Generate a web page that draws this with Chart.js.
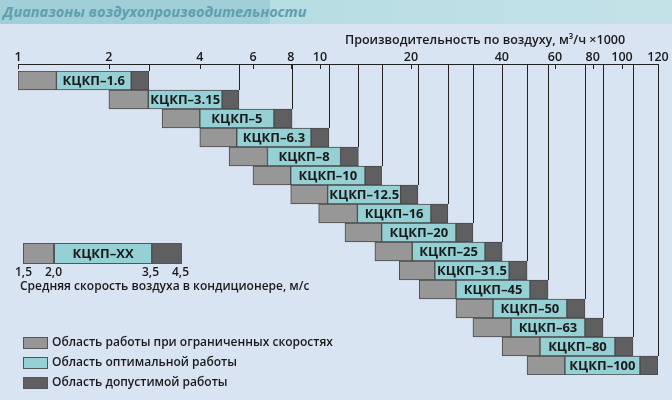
<!DOCTYPE html>
<html><head><meta charset="utf-8">
<script src="https://cdn.jsdelivr.net/npm/chart.js@4"></script>
<style>
body{margin:0;background:#d9e4f2;font-family:"Open Sans",sans-serif;}
#wrap{position:relative;width:672px;height:400px;overflow:hidden;background:#d9e4f2;}
#band{position:absolute;left:0;top:0;width:672px;height:24px;background:linear-gradient(90deg,#a6d3dc 0%,#b6dde3 40%,#c3e2e8 100%);}
#band2{position:absolute;left:0;top:0;width:270px;height:24px;background:#a0cfd9;}
#title{position:absolute;left:3px;top:2px;font-style:italic;font-weight:700;font-size:14.5px;color:#5e9fae;white-space:nowrap;}
canvas{position:absolute;left:0;top:0;}
.t{position:absolute;white-space:nowrap;color:#1a1a1a;font-weight:600;font-size:12px;}
.sw{position:absolute;width:25px;height:12px;border:1px solid #555;box-sizing:border-box;}
</style></head><body>
<div id="wrap">
<div id="band"></div><div id="band2"></div>
<div id="title">Диапазоны воздухопроизводительности</div>
<canvas id="c" width="672" height="400"></canvas>
<div class="t" style="left:345px;top:31px;font-size:12.5px;">Производительность по воздуху, м³/ч ×1000</div>
<div style="position:absolute;left:23px;top:243px;width:31px;height:21px;background:#979797;border:1px solid #555;box-sizing:border-box"></div>
<div style="position:absolute;left:54px;top:243px;width:98px;height:21px;background:#94d0d4;border:1px solid #555;box-sizing:border-box;text-align:center;font-weight:700;font-size:13px;line-height:19px;color:#1a1a1a">КЦКП–XX</div>
<div style="position:absolute;left:152px;top:243px;width:30px;height:21px;background:#5f5f61;border:1px solid #555;box-sizing:border-box"></div>
<div class="t" style="left:15px;top:263px;">1,5</div>
<div class="t" style="left:45px;top:263px;">2,0</div>
<div class="t" style="left:142px;top:263px;">3,5</div>
<div class="t" style="left:172px;top:263px;">4,5</div>
<div class="t" style="left:20px;top:277px;">Средняя скорость воздуха в кондиционере, м/с</div>
<div class="sw" style="left:23px;top:337px;background:#979797"></div>
<div class="t" style="left:52px;top:333px;">Область работы при ограниченных скоростях</div>
<div class="sw" style="left:23px;top:357px;background:#94d0d4"></div>
<div class="t" style="left:52px;top:353px;">Область оптимальной работы</div>
<div class="sw" style="left:23px;top:377px;background:#5f5f61"></div>
<div class="t" style="left:52px;top:373px;">Область допустимой работы</div>
</div>
<script>
const models=['КЦКП–1.6','КЦКП–3.15','КЦКП–5','КЦКП–6.3','КЦКП–8','КЦКП–10','КЦКП–12.5','КЦКП–16','КЦКП–20','КЦКП–25','КЦКП–31.5','КЦКП–45','КЦКП–50','КЦКП–63','КЦКП–80','КЦКП–100'];
// airflow (m3/h x1000) at 1.5, 2.0, 3.5, 4.5 m/s
const v15=[1.0,2.0,3.0,4.0,5.0,6.0,8.0,9.9,12.1,15.2,18.3,21.3,28.2,32.1,40.1,48.5];
const v20=[1.34,2.7,4.0,5.3,6.7,8.0,10.6,13.3,16.0,20.2,24.0,28.2,37.4,42.9,53.5,64.7];
const v35=[2.37,4.74,7.04,9.34,11.7,14.1,18.5,23.3,28.2,35.2,42.3,49.6,65.7,75.4,94.8,114.7];
const v45=[2.71,5.39,8.08,10.7,13.4,16.0,21.1,26.5,32.1,40.1,48.5,56.9,75.4,86.5,108.7,131.6];
const tickValues=[1,2,4,6,8,10,20,40,60,80,100,131.6];
const tickLabels=['1','2','4','6','8','10','20','40','60','80','100','120'];
const mk=(a,b)=>a.map((x,i)=>[x,b[i]]);
const ds=(label,data,color)=>({label,data,backgroundColor:color,borderColor:'#4a4a4a',borderWidth:1,borderSkipped:false,grouped:false,barPercentage:1,categoryPercentage:1});
const deco={id:'deco',
 beforeDatasetsDraw(ch){const x=ch.scales.x,ctx=ch.ctx,y=ch.scales.y,top=ch.chartArea.top-7;
  ctx.save();ctx.strokeStyle='#222';ctx.lineWidth=1;
  ctx.beginPath();ctx.moveTo(x.getPixelForValue(1),top+.5);ctx.lineTo(x.getPixelForValue(131.6),top+.5);ctx.stroke();
  v45.forEach((v,i)=>{const px=Math.round(x.getPixelForValue(v))+.5;const by=y.getPixelForValue(i)-9.5;
   ctx.beginPath();ctx.moveTo(px,top);ctx.lineTo(px,by);ctx.stroke();});
  tickValues.forEach(v=>{const px=Math.round(x.getPixelForValue(v))+.5;ctx.beginPath();ctx.moveTo(px,top);ctx.lineTo(px,top+5);ctx.stroke();});
  ctx.fillStyle='#1a1a1a';ctx.font='600 12.5px "Open Sans"';ctx.textAlign='center';ctx.textBaseline='alphabetic';
  tickValues.forEach((v,i)=>ctx.fillText(tickLabels[i],x.getPixelForValue(v),top-3));
  ctx.restore();},
 afterDatasetsDraw(ch){const x=ch.scales.x,y=ch.scales.y,ctx=ch.ctx;ctx.save();
  ctx.fillStyle='#1a1a1a';ctx.font='700 13px "Open Sans"';ctx.textAlign='center';ctx.textBaseline='middle';
  models.forEach((m,i)=>ctx.fillText(m,(x.getPixelForValue(v20[i])+x.getPixelForValue(v35[i]))/2,y.getPixelForValue(i)+1));
  ctx.restore();}};
new Chart(document.getElementById('c'),{type:'bar',
 data:{labels:models,datasets:[ds('Область работы при ограниченных скоростях',mk(v15,v20),'#979797'),ds('Область оптимальной работы',mk(v20,v35),'#94d0d4'),ds('Область допустимой работы',mk(v35,v45),'#5f5f61')]},
 options:{indexAxis:'y',responsive:false,animation:false,events:[],
  layout:{padding:{left:18,right:14,top:71,bottom:25}},
  plugins:{legend:{display:false},tooltip:{enabled:false}},
  scales:{x:{type:'logarithmic',min:1,max:131.6,display:false},y:{display:false}}},
 plugins:[deco]});
</script></body></html>
